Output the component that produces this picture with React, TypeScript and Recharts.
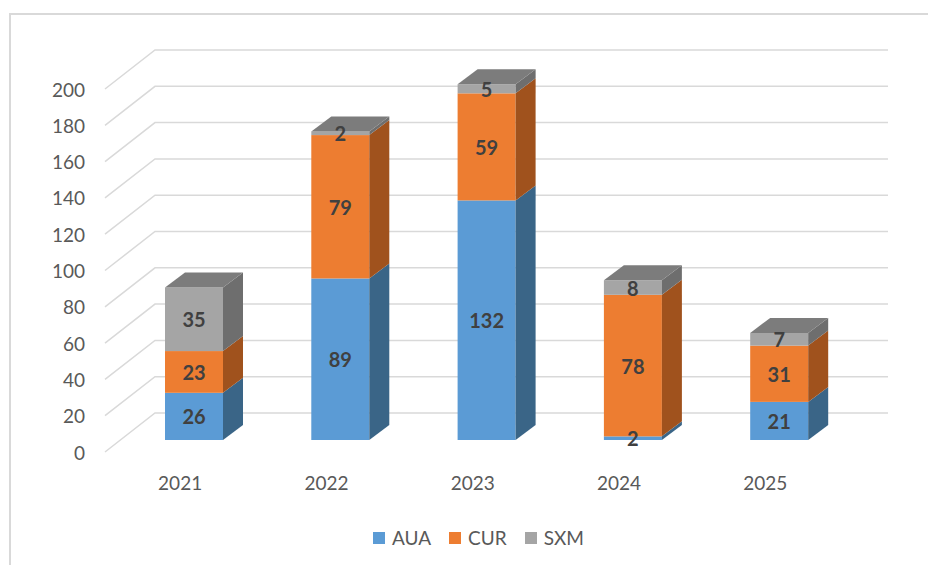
import { Bar, BarChart, CartesianGrid, LabelList, XAxis, YAxis } from "recharts"

const YEARS = ["2021", "2022", "2023", "2024", "2025"]
const AUA = [26, 89, 132, 2, 21]
const CUR = [23, 79, 59, 78, 31]
const SXM = [35, 2, 5, 8, 7]
const Y_TICKS = [0, 20, 40, 60, 80, 100, 120, 140, 160, 180, 200]

const SERIES = [
    { key: "AUA", front: "#5b9bd5", side: "#3a6587", top: "#4a80b2" },
    { key: "CUR", front: "#ed7d31", side: "#a0521d", top: "#c26426" },
    { key: "SXM", front: "#a5a5a5", side: "#6e6e6e", top: "#7c7c7c" },
]

const FONT = "Lato, 'Open Sans', sans-serif"
const TEXT = "#595959"
const DX = 20
const DY = 15

const chartData = YEARS.map((year, i) => ({ year, AUA: AUA[i], CUR: CUR[i], SXM: SXM[i] }))

function Box3D(props: any) {
    const { x, y, width, height, front, side, top, showTop } = props
    if (!height || height <= 0) return null
    const r = x + width
    return (
        <g>
            <rect x={x} y={y} width={width} height={height} fill={front} />
            <polygon points={`${r},${y} ${r + DX},${y - DY} ${r + DX},${y + height - DY} ${r},${y + height}`} fill={side} />
            {showTop && (
                <polygon points={`${x},${y} ${x + DX},${y - DY} ${r + DX},${y - DY} ${r},${y}`} fill={top} />
            )}
        </g>
    )
}

// back wall line + diagonal to the front edge, like the 3D grid in Excel
function GridLine(p: any) {
    const back = p.y1 - 27
    return (
        <path
            key={p.key}
            d={`M105,${p.y1 + 12} L155,${back} L888,${back}`}
            fill="none"
            stroke="#d9d9d9"
            strokeWidth={1.5}
        />
    )
}

function ValueLabel(p: any) {
    if (!p.value) return null
    return (
        <text
            x={p.x + p.width / 2}
            y={p.y + p.height / 2}
            textAnchor="middle"
            dominantBaseline="central"
            fill="#404040"
            fontSize={20}
            fontWeight="bold"
            fontFamily={FONT}
        >
            {p.value}
        </text>
    )
}

export default function App() {
    return (
        <div style={{ position: "absolute", left: 0, top: 0, width: 928, height: 565, overflow: "hidden", background: "#fff" }}>
            <div
                style={{
                    position: "absolute",
                    left: 9,
                    top: 13,
                    width: 940,
                    height: 600,
                    border: "2px solid #d9d9d9",
                    boxSizing: "border-box",
                }}
            />
            <BarChart
                width={928}
                height={565}
                data={chartData}
                margin={{ top: 77, right: 75.5, left: 61, bottom: 85 }}
                style={{ position: "absolute", left: 0, top: 0, fontFamily: FONT }}
            >
                <CartesianGrid vertical={false} horizontal={(p: any) => <GridLine {...p} />} />
                <YAxis
                    domain={[0, 200]}
                    ticks={Y_TICKS}
                    width={60}
                    axisLine={false}
                    tickLine={false}
                    tick={({ y, payload }: any) => (
                        <text x={85} y={y + 12} textAnchor="end" dominantBaseline="central" fill={TEXT} fontSize={19} fontFamily={FONT}>
                            {payload.value}
                        </text>
                    )}
                />
                <XAxis
                    dataKey="year"
                    height={40}
                    axisLine={false}
                    tickLine={false}
                    tick={({ x, payload }: any) => (
                        <text x={x - 14} y={482} textAnchor="middle" dominantBaseline="central" fill={TEXT} fontSize={19} fontFamily={FONT}>
                            {payload.value}
                        </text>
                    )}
                />
                {SERIES.map((s, i) => (
                    <Bar
                        key={s.key}
                        dataKey={s.key}
                        stackId="a"
                        barSize={58}
                        isAnimationActive={false}
                        shape={(p: any) => (
                            <Box3D {...p} front={s.front} side={s.side} top={s.top} showTop={i === SERIES.length - 1} />
                        )}
                    >
                        <LabelList dataKey={s.key} content={(p: any) => <ValueLabel {...p} />} />
                    </Bar>
                ))}
            </BarChart>
            <div
                style={{
                    position: "absolute",
                    left: 373,
                    top: 526,
                    display: "flex",
                    alignItems: "center",
                    fontFamily: FONT,
                    fontSize: 19,
                    color: TEXT,
                }}
            >
                {SERIES.map((s) => (
                    <div key={s.key} style={{ display: "flex", alignItems: "center", marginRight: 18 }}>
                        <span style={{ width: 12, height: 12, background: s.front, marginRight: 7, display: "inline-block" }} />
                        <span>{s.key}</span>
                    </div>
                ))}
            </div>
        </div>
    )
}
